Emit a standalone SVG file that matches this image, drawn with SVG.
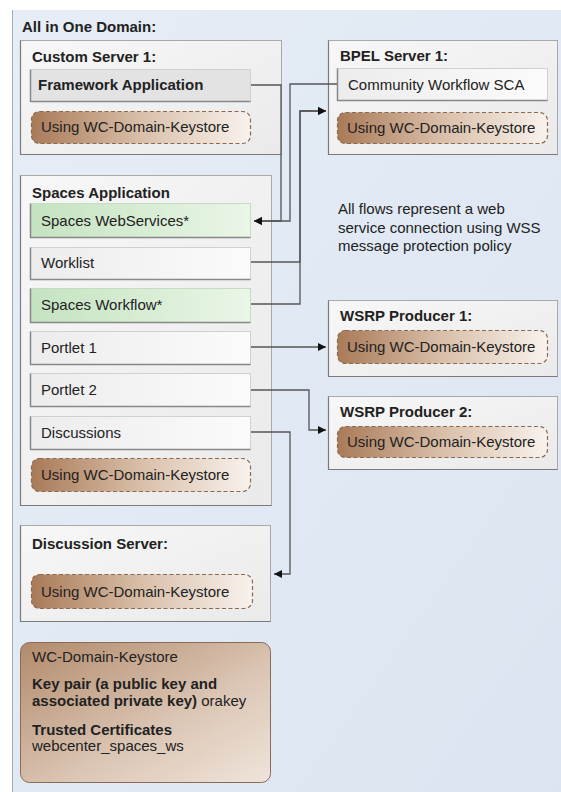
<svg xmlns="http://www.w3.org/2000/svg" width="561" height="792" viewBox="0 0 561 792">
<defs>
<linearGradient id="dom" x1="0" y1="0" x2="1" y2="1"><stop offset="0" stop-color="#e6edf6"/><stop offset="1" stop-color="#dbe5f1"/></linearGradient>
<linearGradient id="srv" x1="0" y1="0" x2="1" y2="1"><stop offset="0" stop-color="#f7f7f7"/><stop offset="1" stop-color="#eaeaea"/></linearGradient>
<linearGradient id="item" x1="0" y1="0" x2="1" y2="0"><stop offset="0" stop-color="#ececec"/><stop offset="1" stop-color="#fbfbfb"/></linearGradient>
<linearGradient id="green" x1="0" y1="0" x2="1" y2="0"><stop offset="0" stop-color="#c4e3c0"/><stop offset="1" stop-color="#eaf6e7"/></linearGradient>
<linearGradient id="pill" x1="0" y1="0" x2="1" y2="0"><stop offset="0" stop-color="#a97a58"/><stop offset="0.5" stop-color="#d9bfa9"/><stop offset="1" stop-color="#f8f2ed"/></linearGradient>
<linearGradient id="ks" x1="0" y1="0" x2="1" y2="1"><stop offset="0" stop-color="#b28a6b"/><stop offset="0.6" stop-color="#dcc7b6"/><stop offset="1" stop-color="#efe4da"/></linearGradient>
<marker id="arr" viewBox="0 0 10 10" refX="10" refY="5" markerWidth="8" markerHeight="8" markerUnits="userSpaceOnUse" orient="auto"><path d="M0,0 L10,5 L0,10 z" fill="#111"/></marker>
</defs>
<style>
text{font-family:"Liberation Sans",Arial,sans-serif;font-size:15px;fill:#222}
.b{font-weight:bold}
.srv{fill:url(#srv);stroke:#a9a9a9;stroke-width:1}
.sh{fill:none;stroke:#7a7a7a;stroke-width:1.2}
.item{fill:url(#item);stroke:#d0d0d0;stroke-width:1}
.gr{fill:url(#green);stroke:#c5dcc2;stroke-width:1}
.fw{fill:#e3e3e3;stroke:#d0d0d0;stroke-width:1}
.edge{fill:none;stroke:#888;stroke-width:1.5}
.pill{fill:url(#pill);stroke:#8c6a52;stroke-width:1.2;stroke-dasharray:4 2.5}
.conn path{fill:none;stroke:#555;stroke-width:1.3;marker-end:url(#arr)}
</style>
<rect x="0" y="0" width="561" height="792" fill="#ffffff"/>
<g id="domain">
<rect x="12" y="10" width="560" height="790" fill="url(#dom)"/>
<line x1="12.5" y1="10" x2="12.5" y2="792" stroke="#a8adb3" stroke-width="1"/>
<text x="22" y="32" class="b">All in One Domain:</text>
</g>

<g id="custom-server-1">
<rect class="srv" x="20.5" y="40.5" width="261" height="114"/>
<path class="sh" d="M20.5,40.5 V154.5 H281.5"/>
<text x="32" y="62" class="b">Custom Server 1:</text>
<g id="framework-application">
<rect class="fw" x="30.5" y="69.5" width="220" height="32"/>
<path class="edge" d="M30.5,69.5 V101.5 H250.5"/>
<text x="38" y="90" class="b">Framework Application</text>
</g>
<rect class="pill" x="31.5" y="111.5" width="219" height="32" rx="8"/>
<text x="41" y="132">Using WC-Domain-Keystore</text>
</g>

<g id="bpel-server-1">
<rect class="srv" x="328.5" y="40.5" width="229" height="114"/>
<path class="sh" d="M328.5,40.5 V154.5 H557.5"/>
<text x="340" y="61" class="b">BPEL Server 1:</text>
<g id="community-workflow-sca">
<rect class="item" x="337.5" y="68.5" width="210" height="32"/>
<path class="edge" d="M337.5,68.5 V100.5 H547.5"/>
<text x="348" y="90">Community Workflow SCA</text>
</g>
<rect class="pill" x="337.5" y="112.5" width="210" height="31" rx="8"/>
<text x="347" y="133">Using WC-Domain-Keystore</text>
</g>

<g id="spaces-application">
<rect class="srv" x="20.5" y="175.5" width="251" height="330"/>
<path class="sh" d="M20.5,175.5 V505.5 H271.5"/>
<text x="32" y="198" class="b">Spaces Application</text>
<g id="spaces-webservices">
<rect class="gr" x="30.5" y="203.5" width="220" height="34"/>
<path class="edge" d="M30.5,203.5 V237.5 H250.5"/>
<text x="41" y="226">Spaces WebServices*</text>
</g>
<g id="worklist">
<rect class="item" x="30.5" y="247.5" width="220" height="32"/>
<path class="edge" d="M30.5,247.5 V279.5 H250.5"/>
<text x="41" y="268">Worklist</text>
</g>
<g id="spaces-workflow">
<rect class="gr" x="30.5" y="288.5" width="220" height="34"/>
<path class="edge" d="M30.5,288.5 V322.5 H250.5"/>
<text x="41" y="310">Spaces Workflow*</text>
</g>
<g id="portlet-1">
<rect class="item" x="30.5" y="331.5" width="220" height="33"/>
<path class="edge" d="M30.5,331.5 V364.5 H250.5"/>
<text x="41" y="353">Portlet 1</text>
</g>
<g id="portlet-2">
<rect class="item" x="30.5" y="373.5" width="220" height="33"/>
<path class="edge" d="M30.5,373.5 V406.5 H250.5"/>
<text x="41" y="395">Portlet 2</text>
</g>
<g id="discussions">
<rect class="item" x="30.5" y="416.5" width="220" height="33"/>
<path class="edge" d="M30.5,416.5 V449.5 H250.5"/>
<text x="41" y="438">Discussions</text>
</g>
<rect class="pill" x="31.5" y="458.5" width="219" height="33" rx="8"/>
<text x="41" y="480">Using WC-Domain-Keystore</text>
</g>

<g id="note">
<text x="338" y="214">All flows represent a web</text>
<text x="338" y="233">service connection using WSS</text>
<text x="338" y="251">message protection policy</text>
</g>

<g id="wsrp-producer-1">
<rect class="srv" x="328.5" y="300.5" width="229" height="76"/>
<path class="sh" d="M328.5,300.5 V376.5 H557.5"/>
<text x="340" y="321" class="b">WSRP Producer 1:</text>
<rect class="pill" x="337.5" y="330.5" width="210" height="33" rx="8"/>
<text x="347" y="352">Using WC-Domain-Keystore</text>
</g>

<g id="wsrp-producer-2">
<rect class="srv" x="328.5" y="396.5" width="229" height="73"/>
<path class="sh" d="M328.5,396.5 V469.5 H557.5"/>
<text x="340" y="417" class="b">WSRP Producer 2:</text>
<rect class="pill" x="337.5" y="426.5" width="210" height="31" rx="8"/>
<text x="347" y="447">Using WC-Domain-Keystore</text>
</g>

<g id="discussion-server">
<rect class="srv" x="20.5" y="525.5" width="250" height="96"/>
<path class="sh" d="M20.5,525.5 V621.5 H270.5"/>
<text x="32" y="549" class="b">Discussion Server:</text>
<rect class="pill" x="31.5" y="574.5" width="221" height="34" rx="8"/>
<text x="41" y="597">Using WC-Domain-Keystore</text>
</g>

<g id="wc-domain-keystore">
<rect x="20.5" y="642.5" width="250" height="140" rx="9" fill="url(#ks)" stroke="#8a6c56" stroke-width="1"/>
<text x="32" y="662">WC-Domain-Keystore</text>
<text x="32" y="689" class="b">Key pair (a public key and</text>
<text x="32" y="706"><tspan class="b">associated private key)</tspan> orakey</text>
<text x="32" y="735" class="b">Trusted Certificates</text>
<text x="32" y="751">webcenter_spaces_ws</text>
</g>

<g id="connectors" class="conn">
<path d="M251,85 H281 V221 H254"/>
<path d="M337,84 H290 V221 H254"/>
<path d="M251,262 H300 V111 H326"/>
<path d="M251,304 H300 V111 H326"/>
<path d="M251,347 H326"/>
<path d="M251,390 H309 V430 H326"/>
<path d="M251,432 H290 V574 H274"/>
</g>
</svg>
